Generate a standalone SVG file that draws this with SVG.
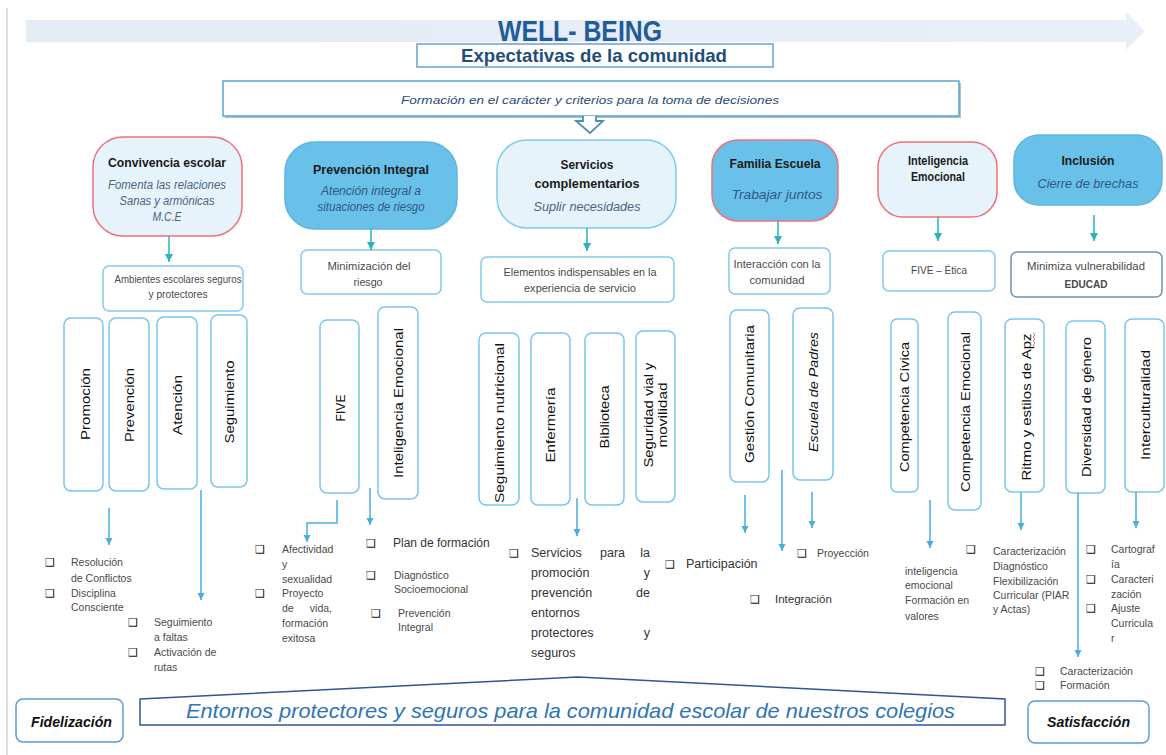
<svg xmlns="http://www.w3.org/2000/svg" width="1166" height="755" viewBox="0 0 1166 755">
<defs>
<linearGradient id="band" x1="0" y1="0" x2="1" y2="0">
<stop offset="0" stop-color="#E3EBF5"/><stop offset="1" stop-color="#E9EFF8"/>
</linearGradient>
<marker id="ab" viewBox="0 0 10 10" refX="10" refY="5" markerWidth="7" markerHeight="8" markerUnits="userSpaceOnUse" orient="auto"><path d="M0,0 L10,5 L0,10 z" fill="#4AADE2"/></marker>
<marker id="at" viewBox="0 0 10 10" refX="10" refY="5" markerWidth="8" markerHeight="9" markerUnits="userSpaceOnUse" orient="auto"><path d="M0,0 L10,5 L0,10 z" fill="#2AB3BC"/></marker>
</defs>
<style>
text{font-family:"Liberation Sans",Arial,sans-serif}
.ttl{font-weight:bold;font-size:13px;fill:#1a1a1a;text-anchor:middle}
.sub{font-style:italic;font-size:12px;fill:#4A6585;text-anchor:middle}
.subb{font-style:italic;font-size:12px;fill:#2F5A85;text-anchor:middle}
.sm{font-size:10.5px;fill:#4a4a4a;text-anchor:middle}
.vt{font-size:13px;fill:#111;text-anchor:middle}
.bx{fill:#fff;stroke:#80CBEA;stroke-width:1.5}
.vb{fill:#fff;stroke:#78C6EE;stroke-width:1.5}
.bl{font-size:10.5px;fill:#4a4a4a}
.bu{font-family:"DejaVu Sans",sans-serif;font-size:11px;fill:#111}
.lt{fill:#E6F3FA}
.dk{fill:#69C0E8;stroke:#5CB6E0;stroke-width:1.5}
.red{stroke:#EF707A;stroke-width:1.5}
.cb{stroke:#4AADE2;stroke-width:1.5;fill:none;marker-end:url(#ab)}
.ct{stroke:#2AB3BC;stroke-width:1.5;fill:none;marker-end:url(#at)}
</style>
<rect width="1166" height="755" fill="#fff"/>
<line x1="7" y1="8" x2="7" y2="755" stroke="#d0d0d0" stroke-width="1.5"/>

<g id="header">
<path d="M26,20 H1126 V12 L1145,31 L1126,50 V42 H26 Z" fill="url(#band)"/>
<text x="498" y="41" font-size="29" font-weight="bold" fill="#1F5C99" textLength="164" lengthAdjust="spacingAndGlyphs">WELL- BEING</text>
</g>
<g id="expectativas">
<rect x="417" y="44" width="356" height="23" fill="#fff" stroke="#6A9FD4" stroke-width="1.5"/>
<text x="461" y="62" font-size="19" font-weight="bold" fill="#1F4E79" textLength="266" lengthAdjust="spacingAndGlyphs">Expectativas de la comunidad</text>
</g>
<g id="formacion">
<rect x="225" y="83" width="736" height="35" fill="#A9C3D4"/>
<rect x="223" y="81" width="736" height="35" fill="#fff" stroke="#5AA6CB" stroke-width="1.5"/>
<text x="401" y="104" font-size="11.5" font-style="italic" fill="#1F4E79" textLength="378" lengthAdjust="spacingAndGlyphs">Formación en el carácter y criterios para  la toma de decisiones</text>
<path d="M583,116 V121 H576 L590,133 L603,121 H596 V116" fill="#fff" stroke="#4E8FB4" stroke-width="1.8"/>
</g>

<g id="convivencia">
<rect x="93" y="137" width="149" height="99" rx="30" class="lt red"/>
<text x="167" y="167" class="ttl" textLength="118" lengthAdjust="spacingAndGlyphs">Convivencia escolar</text>
<text x="167" y="189" class="sub" textLength="118" lengthAdjust="spacingAndGlyphs">Fomenta las relaciones</text>
<text x="167" y="205" class="sub" textLength="95" lengthAdjust="spacingAndGlyphs">Sanas y armónicas</text>
<text x="167" y="221" class="sub" textLength="29" lengthAdjust="spacingAndGlyphs">M.C.E</text>
</g>
<g id="ambientes">
<rect x="103" y="266" width="140" height="45" rx="6" class="bx"/>
<text x="178" y="283" class="sm" textLength="127" lengthAdjust="spacingAndGlyphs">Ambientes escolares seguros</text>
<text x="178" y="298" class="sm" textLength="59" lengthAdjust="spacingAndGlyphs">y protectores</text>
</g>
<g id="prevencion-integral">
<rect x="285" y="142" width="172" height="87" rx="30" class="dk"/>
<text x="371" y="174" class="ttl" textLength="116" lengthAdjust="spacingAndGlyphs">Prevención Integral</text>
<text x="371" y="195" class="subb" textLength="100" lengthAdjust="spacingAndGlyphs">Atención integral  a</text>
<text x="371" y="211" class="subb" textLength="107" lengthAdjust="spacingAndGlyphs">situaciones de riesgo</text>
</g>
<g id="minimizacion">
<rect x="301" y="250" width="140" height="44" rx="6" class="bx"/>
<text x="369" y="270" class="sm" textLength="83" lengthAdjust="spacingAndGlyphs">Minimización del</text>
<text x="368" y="286" class="sm" textLength="29" lengthAdjust="spacingAndGlyphs">riesgo</text>
</g>
<g id="servicios">
<rect x="497" y="140" width="179" height="88" rx="30" class="lt" stroke="#80C9EA" stroke-width="1.5"/>
<text x="587" y="169" class="ttl" textLength="53" lengthAdjust="spacingAndGlyphs">Servicios</text>
<text x="587" y="188" class="ttl" textLength="105" lengthAdjust="spacingAndGlyphs">complementarios</text>
<text x="587" y="211" class="sub" textLength="107" lengthAdjust="spacingAndGlyphs">Suplir necesidades</text>
</g>
<g id="elementos">
<rect x="481" y="257" width="193" height="45" rx="6" class="bx"/>
<text x="580" y="276" class="sm" textLength="153" lengthAdjust="spacingAndGlyphs">Elementos indispensables en la</text>
<text x="580" y="292" class="sm" textLength="112" lengthAdjust="spacingAndGlyphs">experiencia de servicio</text>
</g>
<g id="familia">
<rect x="712" y="140" width="126" height="81" rx="26" class="red" fill="#69C0E8"/>
<text x="775" y="168" class="ttl" textLength="91" lengthAdjust="spacingAndGlyphs">Familia Escuela</text>
<text x="777" y="199" class="subb" textLength="91" lengthAdjust="spacingAndGlyphs">Trabajar  juntos</text>
</g>
<g id="interaccion">
<rect x="729" y="248" width="101" height="46" rx="6" class="bx"/>
<text x="777" y="268" class="sm" textLength="87" lengthAdjust="spacingAndGlyphs">Interacción con la</text>
<text x="777" y="284" class="sm" textLength="55" lengthAdjust="spacingAndGlyphs">comunidad</text>
</g>
<g id="inteligencia">
<rect x="878" y="142" width="119" height="75" rx="25" class="lt red"/>
<text x="938" y="165" class="ttl" textLength="60" lengthAdjust="spacingAndGlyphs">Inteligencia</text>
<text x="938" y="181" class="ttl" textLength="54" lengthAdjust="spacingAndGlyphs">Emocional</text>
</g>
<g id="five-etica">
<rect x="883" y="251" width="112" height="40" rx="6" class="bx"/>
<text x="939" y="274" class="sm" textLength="56" lengthAdjust="spacingAndGlyphs">FIVE – Ética</text>
</g>
<g id="inclusion">
<rect x="1014" y="135" width="148" height="70" rx="25" class="dk"/>
<text x="1088" y="165" class="ttl" textLength="53" lengthAdjust="spacingAndGlyphs">Inclusión</text>
<text x="1088" y="188" class="subb" textLength="101" lengthAdjust="spacingAndGlyphs">Cierre de brechas</text>
</g>
<g id="minimiza">
<rect x="1011" y="252" width="151" height="45" rx="6" fill="#fff" stroke="#6E93B0" stroke-width="1.5"/>
<text x="1086" y="270" class="sm" textLength="118" lengthAdjust="spacingAndGlyphs">Minimiza vulnerabilidad</text>
<text x="1086" y="288" class="sm" font-weight="bold" fill="#222" textLength="43" lengthAdjust="spacingAndGlyphs">EDUCAD</text>
</g>

<g id="promocion"><rect x="64" y="318" width="39" height="173" rx="7" class="vb" stroke="#7CA2CE"/><text class="vt" transform="translate(85,404) rotate(-90)" y="4.5" textLength="72" lengthAdjust="spacingAndGlyphs">Promoción</text></g>
<g id="prevencion"><rect x="109" y="318" width="40" height="173" rx="7" class="vb" stroke="#78BCE8"/><text class="vt" transform="translate(129,405) rotate(-90)" y="4.5" textLength="74" lengthAdjust="spacingAndGlyphs">Prevención</text></g>
<g id="atencion"><rect x="157" y="317" width="40" height="172" rx="7" class="vb" stroke="#5F8BBF"/><text class="vt" transform="translate(177,405) rotate(-90)" y="4.5" textLength="60" lengthAdjust="spacingAndGlyphs">Atención</text></g>
<g id="seguimiento"><rect x="211" y="315" width="36" height="172" rx="7" class="vb" stroke="#7C98BE"/><text class="vt" transform="translate(229,402) rotate(-90)" y="4.5" textLength="83" lengthAdjust="spacingAndGlyphs">Seguimiento</text></g>
<g id="five"><rect x="320" y="320" width="39" height="173" rx="7" class="vb" stroke="#78A8DE"/><text class="vt" transform="translate(340,408) rotate(-90)" y="4.5" textLength="27" lengthAdjust="spacingAndGlyphs">FIVE</text></g>
<g id="ie-prev"><rect x="378" y="307" width="40" height="192" rx="7" class="vb"/><text class="vt" transform="translate(398,403) rotate(-90)" y="4.5" textLength="150" lengthAdjust="spacingAndGlyphs">Inteligencia Emocional</text></g>
<g id="nutricional"><rect x="479" y="333" width="40" height="172" rx="7" class="vb"/><text class="vt" transform="translate(499,423) rotate(-90)" y="4.5" textLength="160" lengthAdjust="spacingAndGlyphs">Seguimiento nutricional</text></g>
<g id="enfermeria"><rect x="531" y="333" width="39" height="172" rx="7" class="vb"/><text class="vt" transform="translate(550,425) rotate(-90)" y="4.5" textLength="75" lengthAdjust="spacingAndGlyphs">Enfermería</text></g>
<g id="biblioteca"><rect x="585" y="333" width="39" height="172" rx="7" class="vb"/><text class="vt" transform="translate(604,417) rotate(-90)" y="4.5" textLength="63" lengthAdjust="spacingAndGlyphs">Biblioteca</text></g>
<g id="seguridad"><rect x="636" y="331" width="39" height="171" rx="7" class="vb"/><text class="vt" transform="translate(655,415) rotate(-90)" textLength="105" lengthAdjust="spacingAndGlyphs" y="-2">Seguridad vial y</text><text class="vt" transform="translate(655,415) rotate(-90)" y="12" textLength="65" lengthAdjust="spacingAndGlyphs">movilidad</text></g>
<g id="gestion"><rect x="730" y="310" width="39" height="172" rx="7" class="vb"/><text class="vt" transform="translate(749,394) rotate(-90)" y="4.5" textLength="138" lengthAdjust="spacingAndGlyphs">Gestión Comunitaria</text></g>
<g id="escuela-padres"><rect x="793" y="308" width="40" height="172" rx="7" class="vb"/><text class="vt" font-style="italic" transform="translate(813,392) rotate(-90)" y="4.5" textLength="120" lengthAdjust="spacingAndGlyphs">Escuela de Padres</text></g>
<g id="civica"><rect x="891" y="319" width="27" height="173" rx="6" class="vb"/><text class="vt" transform="translate(904,407) rotate(-90)" y="4.5" textLength="130" lengthAdjust="spacingAndGlyphs">Competencia Cívica</text></g>
<g id="comp-emocional"><rect x="948" y="312" width="33" height="198" rx="7" class="vb"/><text class="vt" transform="translate(965,412) rotate(-90)" y="4.5" textLength="160" lengthAdjust="spacingAndGlyphs">Competencia Emocional</text></g>
<g id="ritmo"><rect x="1005" y="319" width="39" height="173" rx="7" class="vb"/><text class="vt" transform="translate(1026,407) rotate(-90)" y="4.5" textLength="147" lengthAdjust="spacingAndGlyphs">Ritmo y estilos de Apz</text><path d="M1033,333 l2,2 l-2,2 l2,2 l-2,2 l2,2 l-2,2 l2,2" fill="none" stroke="#E24B4B" stroke-width="0.8"/></g>
<g id="diversidad"><rect x="1066" y="321" width="39" height="172" rx="7" class="vb"/><text class="vt" transform="translate(1086,407) rotate(-90)" y="4.5" textLength="140" lengthAdjust="spacingAndGlyphs">Diversidad de género</text></g>
<g id="interculturalidad"><rect x="1125" y="319" width="39" height="173" rx="7" class="vb"/><text class="vt" transform="translate(1145,405) rotate(-90)" y="4.5" textLength="110" lengthAdjust="spacingAndGlyphs">Interculturalidad</text></g>

<g id="connectors">
<line x1="169" y1="236" x2="169" y2="262" class="ct"/>
<line x1="371" y1="229" x2="371" y2="250" class="ct"/>
<line x1="587" y1="228" x2="587" y2="251" class="ct"/>
<line x1="778" y1="221" x2="778" y2="244" class="ct"/>
<line x1="938" y1="217" x2="938" y2="241" class="ct"/>
<line x1="1094" y1="215" x2="1094" y2="241" class="ct"/>
<line x1="109" y1="508" x2="109" y2="545" class="cb"/>
<line x1="201" y1="490" x2="201" y2="600" class="cb"/>
<path d="M337,500 V523 H307 V542" class="cb"/>
<line x1="370" y1="488" x2="370" y2="525" class="cb"/>
<line x1="577" y1="498" x2="577" y2="536" class="cb"/>
<line x1="745" y1="495" x2="745" y2="533" class="cb"/>
<line x1="782" y1="470" x2="782" y2="551" class="cb"/>
<line x1="812" y1="492" x2="812" y2="528" class="cb"/>
<line x1="930" y1="500" x2="930" y2="548" class="cb"/>
<line x1="1021" y1="492" x2="1021" y2="530" class="cb"/>
<line x1="1078" y1="493" x2="1078" y2="657" class="cb"/>
<line x1="1136" y1="492" x2="1136" y2="528" class="cb"/>
</g>

<g id="bullets-convivencia">
<text class="bu" x="45" y="566">❑</text><text class="bu" x="45" y="597">❑</text>
<text class="bl" x="71" y="566">Resolución</text>
<text class="bl" x="71" y="582">de Conflictos</text>
<text class="bl" x="71" y="597">Disciplina</text>
<text class="bl" x="71" y="611">Consciente</text>
<text class="bu" x="128" y="626">❑</text><text class="bu" x="128" y="656">❑</text>
<text class="bl" x="154" y="626">Seguimiento</text>
<text class="bl" x="154" y="641">a faltas</text>
<text class="bl" x="154" y="656">Activación de</text>
<text class="bl" x="154" y="671">rutas</text>
</g>
<g id="bullets-prevencion">
<text class="bu" x="255" y="553">❑</text><text class="bu" x="255" y="597">❑</text>
<text class="bl" x="282" y="553">Afectividad</text>
<text class="bl" x="282" y="568">y</text>
<text class="bl" x="282" y="583">sexualidad</text>
<text class="bl" x="282" y="597">Proyecto</text>
<text class="bl" x="282" y="612">de</text><text class="bl" x="332" y="612" text-anchor="end">vida,</text>
<text class="bl" x="282" y="627">formación</text>
<text class="bl" x="282" y="642">exitosa</text>
<text class="bu" x="366" y="547">❑</text>
<text x="393" y="547" font-size="12" fill="#333">Plan  de formación</text>
<text class="bu" x="366" y="579">❑</text>
<text class="bl" x="394" y="579">Diagnóstico</text>
<text class="bl" x="394" y="593">Socioemocional</text>
<text class="bu" x="371" y="617">❑</text>
<text class="bl" x="398" y="617">Prevención</text>
<text class="bl" x="398" y="631">Integral</text>
</g>
<g id="bullets-servicios" font-size="12.5" fill="#333">
<text class="bu" x="509" y="557">❑</text>
<text x="531" y="557">Servicios</text><text x="600" y="557">para</text><text x="650" y="557" text-anchor="end">la</text>
<text x="531" y="577">promoción</text><text x="650" y="577" text-anchor="end">y</text>
<text x="531" y="597">prevención</text><text x="650" y="597" text-anchor="end">de</text>
<text x="531" y="617">entornos</text>
<text x="531" y="637">protectores</text><text x="650" y="637" text-anchor="end">y</text>
<text x="531" y="657">seguros</text>
</g>
<g id="bullets-familia">
<text class="bu" x="665" y="568">❑</text>
<text x="686" y="568" font-size="12.5" fill="#333">Participación</text>
<text class="bu" x="750" y="603">❑</text>
<text x="775" y="603" font-size="11.5" fill="#333">Integración</text>
<text class="bu" x="797" y="557">❑</text>
<text x="817" y="557" font-size="10.5" fill="#444">Proyección</text>
</g>
<g id="bullets-ie">
<text class="bl" x="905" y="575"> inteligencia</text>
<text class="bl" x="905" y="589">emocional</text>
<text class="bl" x="905" y="604">Formación en</text>
<text class="bl" x="905" y="620">valores</text>
</g>
<g id="bullets-inclusion" font-size="10">
<text class="bu" x="966" y="553">❑</text>
<text class="bl" x="993" y="555" font-size="10">Caracterización</text>
<text class="bl" x="993" y="570" font-size="10">Diagnóstico</text>
<text class="bl" x="993" y="585" font-size="10">Flexibilización</text>
<text class="bl" x="993" y="599" font-size="10">Curricular (PIAR</text>
<text class="bl" x="993" y="613" font-size="10">y Actas)</text>
<text class="bu" x="1086" y="553">❑</text><text class="bu" x="1086" y="583">❑</text><text class="bu" x="1086" y="612">❑</text>
<text class="bl" x="1111" y="553" font-size="10">Cartograf</text>
<text class="bl" x="1111" y="568" font-size="10">ía</text>
<text class="bl" x="1111" y="583" font-size="10">Caracteri</text>
<text class="bl" x="1111" y="598" font-size="10">zación</text>
<text class="bl" x="1111" y="612" font-size="10">Ajuste</text>
<text class="bl" x="1111" y="627" font-size="10">Curricula</text>
<text class="bl" x="1111" y="642" font-size="10">r</text>
<text class="bu" x="1035" y="675">❑</text><text class="bu" x="1035" y="689">❑</text>
<text class="bl" x="1060" y="675" font-size="9.5">Caracterización</text>
<text class="bl" x="1060" y="689" font-size="9.5">Formación</text>
</g>

<g id="entornos">
<path d="M140,699 L578,677 L1005,699 V725 H140 Z" fill="#fff" stroke="#2F5597" stroke-width="1.5"/>
<text x="186" y="718" font-size="21" font-style="italic" fill="#2E75B6" textLength="769" lengthAdjust="spacingAndGlyphs">Entornos protectores y seguros para la comunidad escolar de nuestros colegios</text>
</g>
<g id="fidelizacion">
<rect x="16" y="699" width="107" height="43" rx="7" fill="#fff" stroke="#5B9BD5" stroke-width="1.5"/>
<text x="31" y="727" font-size="14" font-weight="bold" font-style="italic" fill="#111" textLength="81" lengthAdjust="spacingAndGlyphs">Fidelización</text>
</g>
<g id="satisfaccion">
<rect x="1028" y="701" width="121" height="42" rx="7" fill="#fff" stroke="#5B9BD5" stroke-width="1.5"/>
<text x="1047" y="727" font-size="14" font-weight="bold" font-style="italic" fill="#111" textLength="83" lengthAdjust="spacingAndGlyphs">Satisfacción</text>
</g>
</svg>
